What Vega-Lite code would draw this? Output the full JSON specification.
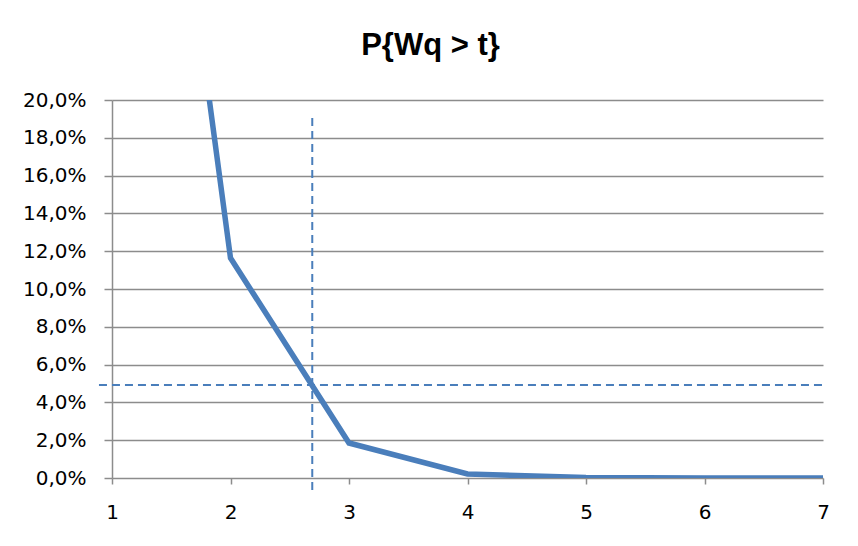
{
  "$schema": "https://vega.github.io/schema/vega-lite/v6.json",
  "autosize": "none",
  "width": 711,
  "height": 378,
  "padding": {"left": 112, "top": 100, "right": 35, "bottom": 68},
  "background": "white",
  "title": {
    "text": "P{Wq > t}",
    "font": "Liberation Sans",
    "fontSize": 31,
    "fontWeight": "bold",
    "color": "#000000",
    "anchor": "middle",
    "baseline": "alphabetic",
    "offset": 4,
    "dx": -37
  },
  "config": {
    "locale": {"number": {"decimal": ",", "thousands": ".", "grouping": [3], "currency": ["", " €"]}},
    "view": {"stroke": null},
    "axis": {
      "labelFont": "DejaVu Sans",
      "labelFontSize": 20,
      "labelColor": "#000000",
      "labelOverlap": false,
      "labelFlush": false,
      "domainColor": "#8c8c8c",
      "tickColor": "#8c8c8c",
      "gridColor": "#8c8c8c",
      "gridWidth": 1.5,
      "domainWidth": 1.5,
      "tickWidth": 1.5
    }
  },
  "datasets": {
    "curve": [
      {"t": 1, "p": 0.585},
      {"t": 2, "p": 0.1164},
      {"t": 3, "p": 0.0185},
      {"t": 4, "p": 0.0021},
      {"t": 5, "p": 0.0003},
      {"t": 6, "p": 0.00003},
      {"t": 7, "p": 0.0}
    ],
    "vline": [
      {"t": 2.69, "p": -0.0063},
      {"t": 2.69, "p": 0.191}
    ],
    "hline": [
      {"t": 0.89, "p": 0.0492},
      {"t": 7, "p": 0.0492}
    ]
  },
  "encoding": {
    "x": {
      "field": "t", "type": "quantitative", "title": null,
      "scale": {"domain": [1, 7], "nice": false, "zero": false},
      "axis": {"values": [1, 2, 3, 4, 5, 6, 7], "grid": false, "domain": false, "tickSize": 6, "labelPadding": 18, "format": "d", "labelFont": "DejaVu Sans", "labelFontSize": 20, "labelOverlap": false, "labelFlush": false}
    },
    "y": {
      "field": "p", "type": "quantitative", "title": null,
      "scale": {"domain": [0, 0.2], "nice": false},
      "axis": {"values": [0, 0.02, 0.04, 0.06, 0.08, 0.1, 0.12, 0.14, 0.16, 0.18, 0.2], "format": ".1%", "grid": true, "tickSize": 8, "labelPadding": 18, "labelFont": "DejaVu Sans", "labelFontSize": 20, "labelOverlap": false}
    }
  },
  "layer": [
    {
      "data": {"name": "curve"},
      "mark": {"type": "line", "color": "#4a7ebb", "strokeWidth": 5.5, "clip": true}
    },
    {
      "data": {"name": "vline"},
      "mark": {"type": "line", "color": "#4a7ebb", "strokeWidth": 2, "strokeDash": [8, 5], "clip": false}
    },
    {
      "data": {"name": "hline"},
      "mark": {"type": "line", "color": "#4a7ebb", "strokeWidth": 2, "strokeDash": [8, 5], "clip": false}
    }
  ]
}
